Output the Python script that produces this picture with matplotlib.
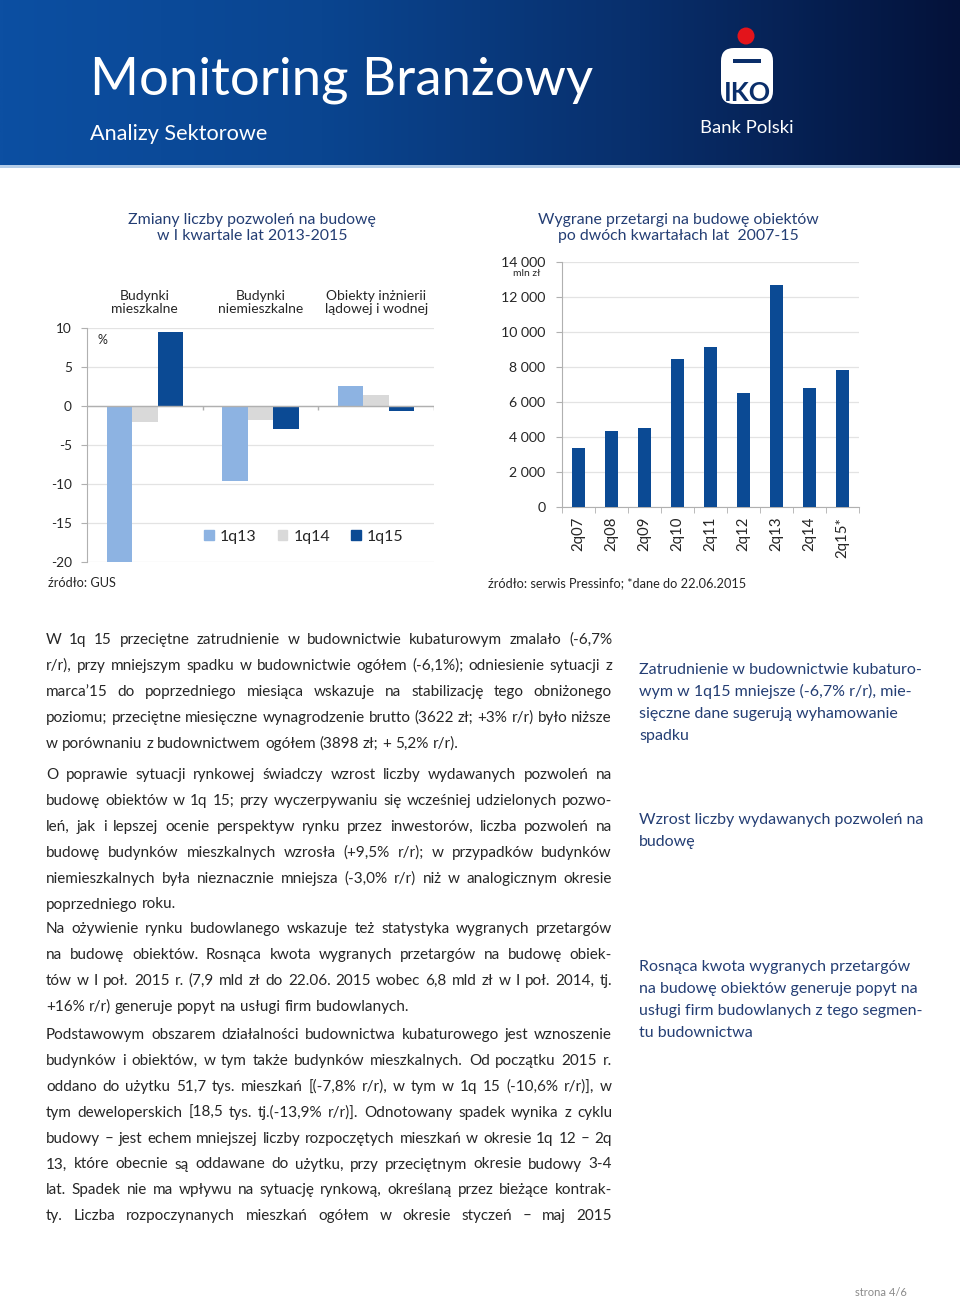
import numpy as np
import matplotlib
matplotlib.use("Agg")
import matplotlib.pyplot as plt
from matplotlib.patches import Rectangle, Circle, FancyBboxPatch
from matplotlib.colors import LinearSegmentedColormap

plt.rcParams['font.family'] = ['Lato', 'DejaVu Sans']
plt.rcParams['axes.unicode_minus'] = False

W, H = 960, 1300
NAVY = '#243e74'
BAR_DARK = '#0b4a94'
BAR_LIGHT = '#8db3e2'
BAR_GREY = '#d9d9d9'
GRID = '#e3e3e3'
AXIS = '#b0b0b0'
TXT = '#262626'

# --- wykres 1: zmiany liczby pozwoleń (%)
kategorie = ['Budynki\nmieszkalne', 'Budynki\nniemieszkalne', 'Obiekty inżnierii\nlądowej i wodnej']
okresy = ['1q13', '1q14', '1q15']
zm_1q13 = [-20.0, -9.6, 2.6]
zm_1q14 = [-2.0, -1.8, 1.4]
zm_1q15 = [9.5, -3.0, -0.7]
yticks_l = [-20, -15, -10, -5, 0, 5, 10]

# --- wykres 2: wygrane przetargi (mln zł)
kwartaly = ['2q07', '2q08', '2q09', '2q10', '2q11', '2q12', '2q13', '2q14', '2q15*']
przetargi = [3350, 4350, 4500, 8480, 9130, 6530, 12680, 6780, 7850]
yticks_r = [0, 2000, 4000, 6000, 8000, 10000, 12000, 14000]

# --- tekst
akapit1 = [
    "W 1q 15 przeciętne zatrudnienie w budownictwie kubaturowym zmalało (-6,7%",
    "r/r), przy mniejszym spadku w budownictwie ogółem (-6,1%); odniesienie sytuacji z",
    "marca’15 do poprzedniego miesiąca wskazuje na stabilizację tego obniżonego",
    "poziomu; przeciętne miesięczne wynagrodzenie brutto (3622 zł; +3% r/r) było niższe",
    "w porównaniu z budownictwem ogółem (3898 zł; + 5,2% r/r).",
]
akapit2 = [
    "O poprawie sytuacji rynkowej świadczy wzrost liczby wydawanych pozwoleń na",
    "budowę obiektów w 1q 15; przy wyczerpywaniu się wcześniej udzielonych pozwo-",
    "leń, jak i lepszej ocenie perspektyw rynku przez inwestorów, liczba pozwoleń na",
    "budowę budynków mieszkalnych wzrosła (+9,5% r/r); w przypadków budynków",
    "niemieszkalnych była nieznacznie mniejsza (-3,0% r/r) niż w analogicznym okresie",
    "poprzedniego roku.",
]
akapit3 = [
    "Na ożywienie rynku budowlanego wskazuje też statystyka wygranych przetargów",
    "na budowę obiektów. Rosnąca kwota wygranych przetargów na budowę obiek-",
    "tów w I poł. 2015 r. (7,9 mld zł do 22.06. 2015 wobec 6,8 mld zł w I poł. 2014, tj.",
    "+16% r/r) generuje popyt na usługi firm budowlanych.",
]
akapit4 = [
    "Podstawowym obszarem działalności budownictwa kubaturowego jest wznoszenie",
    "budynków i obiektów, w tym także budynków mieszkalnych.  Od początku 2015 r.",
    "oddano do użytku 51,7 tys. mieszkań [(-7,8% r/r), w tym w 1q 15 (-10,6% r/r)], w",
    "tym deweloperskich [18,5 tys. tj.(-13,9% r/r)]. Odnotowany spadek wynika z cyklu",
    "budowy – jest echem mniejszej liczby rozpoczętych mieszkań w okresie 1q 12 – 2q",
    "13, które obecnie są oddawane do użytku, przy przeciętnym okresie budowy 3-4",
    "lat. Spadek nie ma wpływu na sytuację rynkową, określaną przez bieżące kontrak-",
    "ty. Liczba rozpoczynanych mieszkań ogółem w okresie styczeń – maj 2015",
]
boczne = [
    ["Zatrudnienie w budownictwie kubaturo-", "wym w 1q15 mniejsze (-6,7% r/r), mie-",
     "sięczne dane sugerują wyhamowanie", "spadku"],
    ["Wzrost liczby wydawanych pozwoleń na", "budowę"],
    ["Rosnąca kwota wygranych przetargów", "na budowę obiektów generuje popyt na",
     "usługi firm budowlanych z tego segmen-", "tu budownictwa"],
]

fig = plt.figure(figsize=(W / 100, H / 100), dpi=100)
bg = fig.add_axes([0, 0, 1, 1])
bg.axis('off')
renderer = fig.canvas.get_renderer()

# nagłówek
cmap = LinearSegmentedColormap.from_list('hdr', ['#0c4fa2', '#0a4590', '#082f6c', '#04123a'])
bg.imshow(np.linspace(0, 1, 512)[None, :], extent=(0, W, 165, 0), cmap=cmap, aspect='auto')
bg.add_patch(Rectangle((0, 165), W, 3, color='#b5cde8', lw=0))
bg.set_xlim(0, W)
bg.set_ylim(H, 0)


def fit_text(x, y, s, width, size, **kw):
    t = bg.text(x, y, s, fontsize=size, **kw)
    w = t.get_window_extent(renderer).width
    t.set_fontsize(size * width / w)
    return t


fit_text(90, 95, "Monitoring Branżowy", 502, 40, color='white', va='baseline')
fit_text(90, 140, "Analizy Sektorowe", 177, 15, color='white', va='baseline')

# logo
bg.add_patch(Circle((746, 36), 8.5, color='#e3141b', lw=0))
bg.add_patch(FancyBboxPatch((721, 48), 52, 56, boxstyle='round,pad=0,rounding_size=13',
                            fc='white', ec='none'))
bg.add_patch(Rectangle((733, 59), 28, 4, color='#0a2e6a', lw=0))
bg.text(747, 101, "IKO", color='#0a2e6a', fontsize=19, fontweight='bold',
        ha='center', va='baseline')
fit_text(700, 133, "Bank Polski", 93, 12, color='white', va='baseline')

# tytuły wykresów
bg.text(252, 228, "Zmiany liczby pozwoleń na budowę\nw I kwartale lat 2013-2015",
        ha='center', va='center', fontsize=11.4, color=NAVY, linespacing=1.2)
bg.text(678, 228, "Wygrane przetargi na budowę obiektów\npo dwóch kwartałach lat  2007-15",
        ha='center', va='center', fontsize=11.4, color=NAVY, linespacing=1.2)


def fig_rect(x0, y0, x1, y1):
    return [x0 / W, 1 - y1 / H, (x1 - x0) / W, (y1 - y0) / H]


# --- wykres 1
ax1 = fig.add_axes(fig_rect(87, 328, 434, 562))
ax1.set_facecolor('none')
x = np.arange(len(kategorie))
bw = 0.22
ax1.bar(x - bw, zm_1q13, bw, color=BAR_LIGHT, label=okresy[0], zorder=3)
ax1.bar(x, zm_1q14, bw, color=BAR_GREY, label=okresy[1], zorder=3)
ax1.bar(x + bw, zm_1q15, bw, color=BAR_DARK, label=okresy[2], zorder=3)
ax1.set_xlim(-0.5, 2.5)
ax1.set_ylim(-20, 10)
ax1.set_yticks(yticks_l)
ax1.grid(axis='y', color=GRID, lw=0.9, zorder=0)
ax1.axhline(0, color=AXIS, lw=1, zorder=4)
ax1.vlines([0.5, 1.5, 2.5], -0.45, 0, color=AXIS, lw=1, zorder=4)
for s in ['top', 'right', 'bottom']:
    ax1.spines[s].set_visible(False)
ax1.spines['left'].set_color(AXIS)
ax1.set_xticks([])
ax1.tick_params(axis='y', length=4, color=AXIS, labelsize=9.8, labelcolor=TXT, pad=7)
for xi, k in zip(x, kategorie):
    ax1.text(xi, 1.11, k, transform=ax1.get_xaxis_transform(), ha='center', va='center',
             fontsize=10, color=TXT, linespacing=1.1)
ax1.text(0.03, 0.95, "%", transform=ax1.transAxes, fontsize=9, color=TXT, va='center')
handles = [Rectangle((0, 0), 1, 1, color=c) for c in (BAR_LIGHT, BAR_GREY, BAR_DARK)]
ax1.legend(handles, okresy, loc='center', bbox_to_anchor=(0.625, 0.107), ncol=3,
           frameon=False, fontsize=11.5, handlelength=0.6, handleheight=0.6,
           handletextpad=0.4, columnspacing=1.3, labelcolor=TXT)
bg.text(48, 587, "źródło: GUS", fontsize=9.2, color=TXT, va='baseline')

# --- wykres 2
ax2 = fig.add_axes(fig_rect(562, 262, 859, 507))
ax2.set_facecolor('none')
xr = np.arange(len(kwartaly))
ax2.bar(xr, przetargi, 0.42, color=BAR_DARK, zorder=3)
ax2.set_xlim(-0.5, len(kwartaly) - 0.5)
ax2.set_ylim(0, 14000)
ax2.set_yticks(yticks_r)
ax2.set_yticklabels([f"{v:,}".replace(",", " ") for v in yticks_r])
ax2.grid(axis='y', color=GRID, lw=0.9, zorder=0)
for s in ['top', 'right']:
    ax2.spines[s].set_visible(False)
ax2.spines['left'].set_color(AXIS)
ax2.spines['bottom'].set_color(AXIS)
ax2.set_xticks(xr)
ax2.set_xticklabels(kwartaly, rotation=90)
ax2.set_xticks(np.arange(-0.5, len(kwartaly)), minor=True)
ax2.tick_params(axis='x', which='major', length=0, labelsize=10.8, labelcolor=TXT, pad=7)
ax2.tick_params(axis='x', which='minor', length=4, color=AXIS)
ax2.tick_params(axis='y', length=4, color=AXIS, labelsize=10.2, labelcolor=TXT, pad=8)
bg.text(527, 274, "mln zł", fontsize=7.5, color=TXT, ha='center', va='center')
bg.text(488, 587, "źródło: serwis Pressinfo; *dane do 22.06.2015", fontsize=9.2,
        color=TXT, va='baseline')


# --- tekst justowany
def justify(lines, x0, x1, y0, dy, size, color, last_left=True):
    sp = size * 100 / 72 * 0.26
    for i, line in enumerate(lines):
        y = y0 + i * dy
        words = line.split()
        arts = [bg.text(x0, y, w, fontsize=size, color=color, va='baseline') for w in words]
        ws = [a.get_window_extent(renderer).width for a in arts]
        if (last_left and i == len(lines) - 1) or len(words) == 1:
            gap = sp
        else:
            gap = (x1 - x0 - sum(ws)) / (len(words) - 1)
        xx = x0
        for a, w in zip(arts, ws):
            a.set_x(xx)
            xx += w + gap


justify(akapit1, 46, 612, 644, 25.9, 11, TXT)
justify(akapit2, 46, 612, 779, 25.9, 11, TXT)
justify(akapit3, 46, 612, 933, 25.9, 11, TXT)
justify(akapit4, 46, 612, 1039, 25.9, 11, TXT, last_left=False)

for y0, blok in zip([674, 824, 971], boczne):
    for i, line in enumerate(blok):
        bg.text(639, y0 + i * 22, line, fontsize=11.5, color=NAVY, va='baseline')

bg.text(855, 1296, "strona 4/6", fontsize=8, color='#8a8a8a', va='baseline')

fig.savefig("out.png", dpi=100)
